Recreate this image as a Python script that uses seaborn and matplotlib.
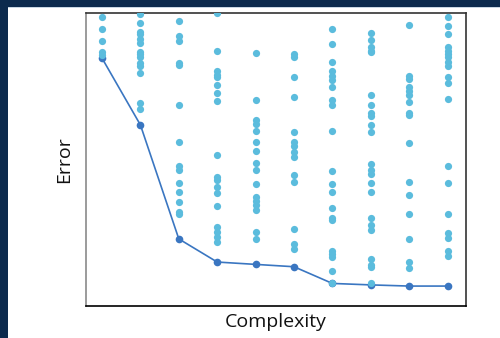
import matplotlib
matplotlib.use("Agg")
import matplotlib.pyplot as plt
from matplotlib.patches import Rectangle
import numpy as np
import pandas as pd
import seaborn as sns

# Error of individual fits at each model complexity
complexity = [1, 2, 3, 4, 5, 6, 7, 8, 9, 10]
fit_errors = [
    [0.986, 0.945, 0.904, 0.867, 0.857],
    [0.997, 0.967, 0.936, 0.927, 0.910, 0.899, 0.868, 0.859, 0.849, 0.830,
     0.820, 0.794, 0.694, 0.671],
    [0.974, 0.920, 0.903, 0.829, 0.822, 0.686, 0.559, 0.479, 0.464, 0.419,
     0.390, 0.354, 0.322, 0.314],
    [1.000, 0.871, 0.801, 0.789, 0.781, 0.753, 0.727, 0.699, 0.515, 0.441,
     0.430, 0.407, 0.385, 0.341, 0.271, 0.254, 0.237, 0.219],
    [0.863, 0.702, 0.636, 0.621, 0.596, 0.561, 0.530, 0.489, 0.464, 0.415,
     0.373, 0.359, 0.345, 0.328, 0.254, 0.228],
    [0.861, 0.851, 0.782, 0.713, 0.595, 0.559, 0.547, 0.525, 0.510, 0.447,
     0.424, 0.263, 0.211, 0.196],
    [0.944, 0.894, 0.833, 0.801, 0.784, 0.772, 0.747, 0.704, 0.687, 0.598,
     0.462, 0.416, 0.390, 0.333, 0.299, 0.294, 0.188, 0.177, 0.166, 0.120,
     0.077],
    [0.932, 0.909, 0.883, 0.871, 0.866, 0.719, 0.687, 0.659, 0.647, 0.619,
     0.594, 0.485, 0.464, 0.451, 0.419, 0.390, 0.299, 0.276, 0.259, 0.159,
     0.140, 0.132, 0.077],
    [0.960, 0.785, 0.774, 0.746, 0.735, 0.720, 0.697, 0.658, 0.652, 0.555,
     0.424, 0.379, 0.313, 0.229, 0.151, 0.129],
    [0.985, 0.957, 0.927, 0.883, 0.871, 0.860, 0.851, 0.834, 0.820, 0.783,
     0.760, 0.705, 0.479, 0.421, 0.313, 0.248, 0.231, 0.188, 0.171],
]
# Best (minimum) error reached at each complexity
best_error = [0.846, 0.618, 0.229, 0.150, 0.142, 0.134, 0.077, 0.072, 0.068, 0.068]

scatter_df = pd.DataFrame(
    [(c, e) for c, errs in zip(complexity, fit_errors) for e in errs],
    columns=["complexity", "error"],
)
best_df = pd.DataFrame({"complexity": complexity, "error": best_error})

sns.set_style("white")
plt.rcParams["font.family"] = ["Open Sans", "DejaVu Sans"]

fig = plt.figure(figsize=(5.0, 3.38), dpi=100)
fig.patch.set_facecolor("white")
ax = fig.add_axes([0.172, 0.0947, 0.76, 0.8668])

line_color = "#3a76c1"
dot_color = "#5bbcdd"

sns.lineplot(data=best_df, x="complexity", y="error", ax=ax, color=line_color,
             linewidth=1.2, marker="o", markersize=5.5, markeredgewidth=0)
sns.scatterplot(data=scatter_df, x="complexity", y="error", ax=ax,
                color=dot_color, s=27, linewidth=0, zorder=3)

ax.set_xlim(0.583, 10.48)
ax.set_ylim(0.0, 1.0)
ax.set_xticks([])
ax.set_yticks([])
ax.set_xlabel("Complexity", fontsize=14, color="#111111", labelpad=5)
ax.set_ylabel("Error", fontsize=14, color="#111111", labelpad=9)

ax.spines["left"].set_color("#8a8a8a")
ax.spines["bottom"].set_color("#000000")
ax.spines["top"].set_color("#333333")
ax.spines["right"].set_color("#333333")
for s in ax.spines.values():
    s.set_linewidth(1.2)

# dark slide border on the left and top edges
navy = "#0c2a4d"
fig.patches.append(Rectangle((0, 0), 8 / 500, 1, transform=fig.transFigure,
                             facecolor=navy, edgecolor="none", zorder=0))
fig.patches.append(Rectangle((0, 1 - 7 / 338), 1, 7 / 338, transform=fig.transFigure,
                             facecolor=navy, edgecolor="none", zorder=0))
fig.patches.append(Rectangle((8 / 500, 1 - 8 / 338), 1, 1 / 338, transform=fig.transFigure,
                             facecolor="#c9d6e3", edgecolor="none", zorder=0))

fig.savefig("out.png", dpi=100)
